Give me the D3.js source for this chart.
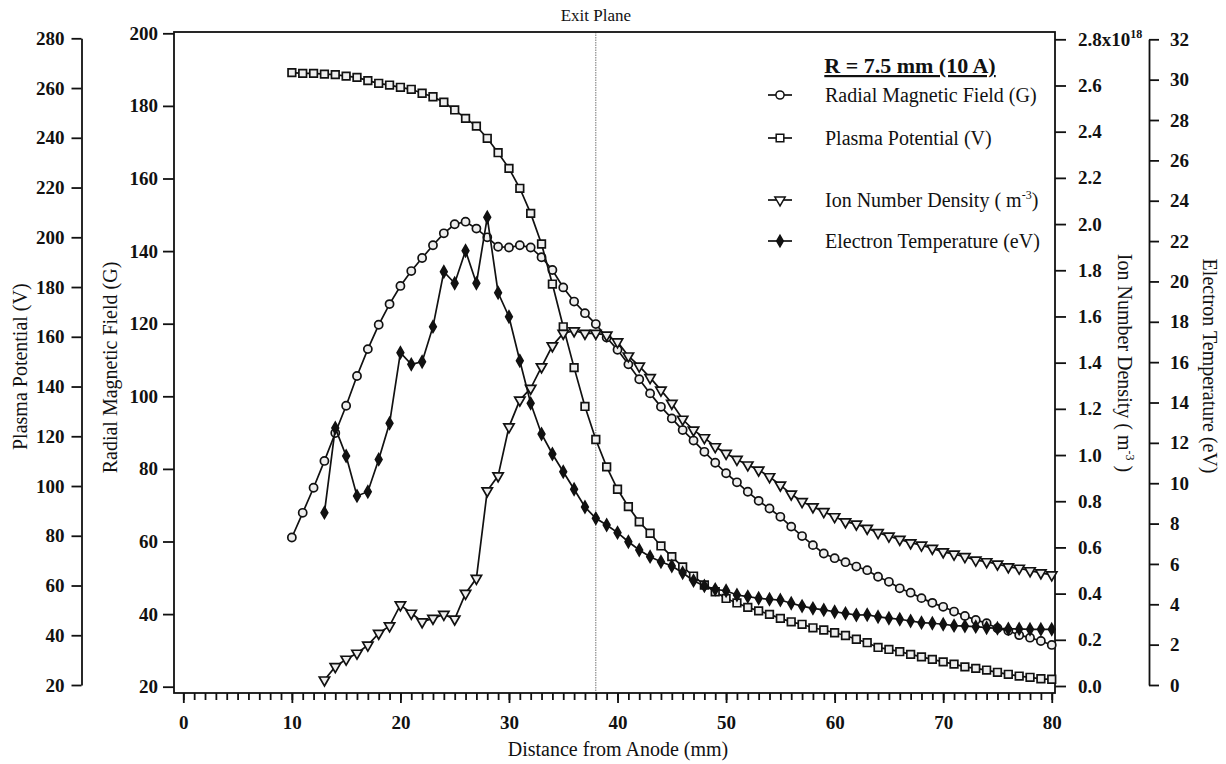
<!DOCTYPE html>
<html><head><meta charset="utf-8">
<script src="https://cdn.jsdelivr.net/npm/d3@7"></script>
<style>
body{margin:0;background:#fff;}
svg{display:block;font-family:"Liberation Serif","Times New Roman",serif;}
</style></head><body>
<svg id="chart" width="1226" height="764"></svg>
<script>
// ---------------- data ----------------
const distance = [
  10,11,12,13,14,15,16,17,18,19,
  20,21,22,23,24,25,26,27,28,29,
  30,31,32,33,34,35,36,37,38,39,
  40,41,42,43,44,45,46,47,48,49,
  50,51,52,53,54,55,56,57,58,59,
  60,61,62,63,64,65,66,67,68,69,
  70,71,72,73,74,75,76,77,78,79,
  80];
const radialField = [
  61.1,67.9,74.8,82.2,89.9,97.4,105.6,113.0,119.7,125.4,
  130.4,134.5,138.1,141.6,144.9,147.4,148.1,146.2,143.8,141.2,
  141.0,141.6,141.0,138.3,134.8,130.0,126.1,122.9,119.9,116.2,
  112.8,108.8,104.7,100.8,97.1,93.9,90.7,87.8,84.7,81.7,
  78.8,76.3,73.7,71.2,69.1,66.8,64.1,61.5,59.0,56.7,
  55.4,54.3,53.1,52.1,50.3,48.9,47.1,45.9,44.4,43.1,
  42.0,40.7,39.5,38.4,37.5,36.1,35.4,34.2,33.5,32.6,
  31.5];
const plasmaPotential = [
  266.2,265.9,265.9,265.6,265.4,264.8,264.3,263.0,261.9,261.2,
  260.3,259.5,257.9,256.5,254.3,251.2,247.8,244.7,239.8,234.0,
  227.7,219.7,209.6,197.3,181.2,164.0,147.6,132.0,118.7,107.7,
  98.7,91.7,85.6,81.0,75.9,71.6,67.5,63.8,60.2,57.5,
  54.8,53.0,51.2,49.8,48.4,46.8,45.4,44.4,43.0,42.1,
  41.0,39.9,38.4,37.0,35.1,34.3,33.4,32.3,31.3,30.3,
  29.3,28.4,27.3,26.7,26.0,25.1,24.3,23.6,23.1,22.5,
  22.3];
const ionDensity = [ // x10^18 m^-3
  null,null,null,0.026,0.084,0.116,0.142,0.177,0.228,0.260,
  0.351,0.315,0.278,0.293,0.310,0.290,0.401,0.466,0.845,0.910,
  1.122,1.238,1.289,1.382,1.473,1.527,1.538,1.527,1.527,1.519,
  1.490,1.429,1.385,1.335,1.281,1.224,1.155,1.108,1.075,1.036,
  1.007,0.981,0.957,0.935,0.906,0.870,0.831,0.798,0.776,0.755,
  0.733,0.711,0.701,0.683,0.664,0.649,0.635,0.620,0.610,0.596,
  0.581,0.571,0.560,0.545,0.538,0.528,0.516,0.510,0.499,0.490,
  0.481];
const electronTemp = [
  null,null,null,8.54,12.74,11.35,9.37,9.58,11.18,12.97,
  16.47,15.89,16.02,17.76,20.48,19.91,21.52,19.91,23.18,19.44,
  18.25,16.07,13.96,12.44,11.45,10.57,9.70,8.82,8.26,7.93,
  7.55,7.10,6.69,6.36,6.11,5.90,5.56,5.17,4.91,4.74,
  4.67,4.46,4.38,4.30,4.25,4.21,4.05,3.91,3.80,3.72,
  3.63,3.55,3.47,3.48,3.38,3.31,3.26,3.17,3.09,3.06,
  3.01,2.94,2.92,2.89,2.84,2.81,2.78,2.78,2.76,2.76,
  2.76];
const xTicks = [0,10,20,30,40,50,60,70,80];
const xMinorTicks = [0,1,2,3,4,5,6,7,8,9,10,11,12,13,14,15,16,17,18,19,20,21,22,23,24,25,26,27,28,29,30,31,32,33,34,35,36,37,38,39,40,41,42,43,44,45,46,47,48,49,50,51,52,53,54,55,56,57,58,59,60,61,62,63,64,65,66,67,68,69,70,71,72,73,74,75,76,77,78,79,80];
const radialTicks = [20,40,60,80,100,120,140,160,180,200];
const plasmaTicks = [20,40,60,80,100,120,140,160,180,200,220,240,260,280];
const ionTicks = [0.0,0.2,0.4,0.6,0.8,1.0,1.2,1.4,1.6,1.8,2.0,2.2,2.4,2.6,2.8];
const tempTicks = [0,2,4,6,8,10,12,14,16,18,20,22,24,26,28,30,32];
const exitPlane = 38;
const legendTitle = "R = 7.5 mm (10 A)";
const seriesNames = ["Radial Magnetic Field (G)","Plasma Potential (V)","Ion Number Density ( m","Electron Temperature (eV)"];

// ---------------- layout ----------------
const svg = d3.select("#chart");
const L = 174, R = 1055, T = 32, B = 693;
const ink = "#111";
const x = d3.scaleLinear().domain([-0.857, 80.3]).range([L, R]);
const yR = d3.scaleLinear().domain([20, 200]).range([686.7, 33.3]);
const yP = d3.scaleLinear().domain([20, 280]).range([685, 38.3]);
const yI = d3.scaleLinear().domain([0, 2.8]).range([686, 39.3]);
const yT = d3.scaleLinear().domain([0, 32]).range([685, 39.3]);

function styleAxis(g, keepDomain) {
  g.attr("font-family", '"Liberation Serif","Times New Roman",serif')
   .attr("font-size", 19).attr("font-weight", "bold");
  g.selectAll("line").attr("stroke", ink).attr("stroke-width", 1.8);
  g.selectAll("text").attr("fill", ink);
  if (keepDomain) g.select(".domain").attr("stroke", ink).attr("stroke-width", 1.8);
  else g.select(".domain").remove();
}

// exit plane line
svg.append("line")
  .attr("x1", x(exitPlane)).attr("x2", x(exitPlane))
  .attr("y1", T).attr("y2", B)
  .attr("stroke", "#777").attr("stroke-width", 1).attr("stroke-dasharray", "1.5,1");
svg.append("text").attr("x", x(exitPlane)).attr("y", 21)
  .attr("text-anchor", "middle").attr("font-size", 17).attr("fill", ink).text("Exit Plane");

// frame
svg.append("rect").attr("x", L).attr("y", T).attr("width", R - L).attr("height", B - T)
  .attr("fill", "none").attr("stroke", ink).attr("stroke-width", 1.8);

// x axis
svg.append("g").attr("transform", `translate(0,${B})`)
  .call(d3.axisBottom(x).tickValues(xMinorTicks).tickSize(7).tickFormat(""))
  .call(g => styleAxis(g, false));
svg.append("g").attr("transform", `translate(0,${B})`)
  .call(d3.axisBottom(x).tickValues(xTicks).tickSize(10).tickPadding(13).tickFormat(d3.format("d")))
  .call(g => styleAxis(g, false));

// radial (inner left)
svg.append("g").attr("transform", `translate(${L},0)`)
  .call(d3.axisLeft(yR).tickValues(radialTicks).tickSize(11).tickPadding(5).tickFormat(d3.format("d")))
  .call(g => styleAxis(g, false));
// plasma (outer left)
svg.append("g").attr("transform", `translate(81.5,0)`)
  .call(d3.axisLeft(yP).tickValues(plasmaTicks).tickSize(10).tickSizeOuter(0).tickPadding(7).tickFormat(d3.format("d")))
  .call(g => styleAxis(g, true));
// ion (inner right)
const ionAxis = svg.append("g").attr("transform", `translate(${R},0)`)
  .call(d3.axisRight(yI).tickValues(ionTicks).tickSize(11).tickPadding(12).tickFormat(d3.format(".1f")))
  .call(g => styleAxis(g, false));
ionAxis.selectAll(".tick text").filter(d => d === 2.8).each(function(d) {
  const t = d3.select(this).text("");
  t.append("tspan").text("2.8x10");
  t.append("tspan").attr("dy", -8).attr("font-size", 12).text("18");
});
// temperature (outer right)
svg.append("g").attr("transform", `translate(1149,0)`)
  .call(d3.axisRight(yT).tickValues(tempTicks).tickSize(10).tickSizeOuter(0).tickPadding(11).tickFormat(d3.format("d")))
  .call(g => styleAxis(g, true));

// axis titles
const titleFont = 20;
svg.append("text").attr("transform", "translate(27,366.7) rotate(-90)")
  .attr("text-anchor", "middle").attr("font-size", titleFont).attr("fill", ink).text("Plasma Potential (V)");
svg.append("text").attr("transform", "translate(117,367.5) rotate(-90)")
  .attr("text-anchor", "middle").attr("font-size", titleFont).attr("fill", ink).text("Radial Magnetic Field (G)");
const ionTitle = svg.append("text").attr("transform", "translate(1118,363) rotate(90)")
  .attr("text-anchor", "middle").attr("font-size", titleFont).attr("fill", ink);
ionTitle.append("tspan").text("Ion Number Density ( m");
ionTitle.append("tspan").attr("dy", -8).attr("font-size", 12).text("-3");
ionTitle.append("tspan").attr("dy", 8).text(" )");
svg.append("text").attr("transform", "translate(1203,366) rotate(90)")
  .attr("text-anchor", "middle").attr("font-size", titleFont).attr("fill", ink).text("Electron Temperature (eV)");
svg.append("text").attr("x", 618).attr("y", 756)
  .attr("text-anchor", "middle").attr("font-size", titleFont).attr("fill", ink).text("Distance from Anode (mm)");

// ---------------- series ----------------
const circleSym = d3.symbol().type(d3.symbolCircle).size(52);
const squareSym = d3.symbol().type(d3.symbolSquare).size(58);
const triSym = d3.symbol().type(d3.symbolTriangle).size(46);
const diaSym = d3.symbol().type(d3.symbolDiamond).size(38);

const series = [
  {vals: radialField, y: yR, sym: circleSym, fill: "#eee", rot: 0},
  {vals: plasmaPotential, y: yP, sym: squareSym, fill: "#eee", rot: 0},
  {vals: ionDensity, y: yI, sym: triSym, fill: "#eee", rot: 180},
  {vals: electronTemp, y: yT, sym: diaSym, fill: ink, rot: 0}
];

series.forEach(s => {
  const pts = distance.map((d, i) => ({d, v: s.vals[i]})).filter(p => p.v !== null);
  const line = d3.line().x(p => x(p.d)).y(p => s.y(p.v));
  svg.append("path").datum(pts).attr("d", line)
    .attr("fill", "none").attr("stroke", ink).attr("stroke-width", 1.7);
  svg.append("g").selectAll("path").data(pts).join("path")
    .attr("transform", p => `translate(${x(p.d)},${s.y(p.v)}) rotate(${s.rot})`)
    .attr("d", s.sym).attr("fill", s.fill).attr("stroke", ink).attr("stroke-width", 1.7);
});

// ---------------- legend ----------------
svg.append("text").attr("x", 910).attr("y", 73).attr("text-anchor", "middle")
  .attr("font-size", 22).attr("font-weight", "bold").attr("fill", ink)
  .attr("text-decoration", "underline").text(legendTitle);
const legRows = [95, 138, 200, 241];
series.forEach((s, i) => {
  const gy = legRows[i];
  const g = svg.append("g");
  g.append("line").attr("x1", 768).attr("x2", 792).attr("y1", gy).attr("y2", gy)
    .attr("stroke", ink).attr("stroke-width", 1.7);
  g.append("path").attr("transform", `translate(780,${gy}) rotate(${s.rot})`)
    .attr("d", s.sym).attr("fill", "#fff").attr("stroke", ink).attr("stroke-width", 1.5)
    .attr("fill", s.fill === ink ? ink : "#fff");
  const t = g.append("text").attr("x", 825).attr("y", gy + 7).attr("font-size", 20).attr("fill", ink);
  t.append("tspan").text(seriesNames[i]);
  if (i === 2) {
    t.append("tspan").attr("dy", -8).attr("font-size", 12).text("-3");
    t.append("tspan").attr("dy", 8).text(")");
  }
});
</script>
</body></html>
